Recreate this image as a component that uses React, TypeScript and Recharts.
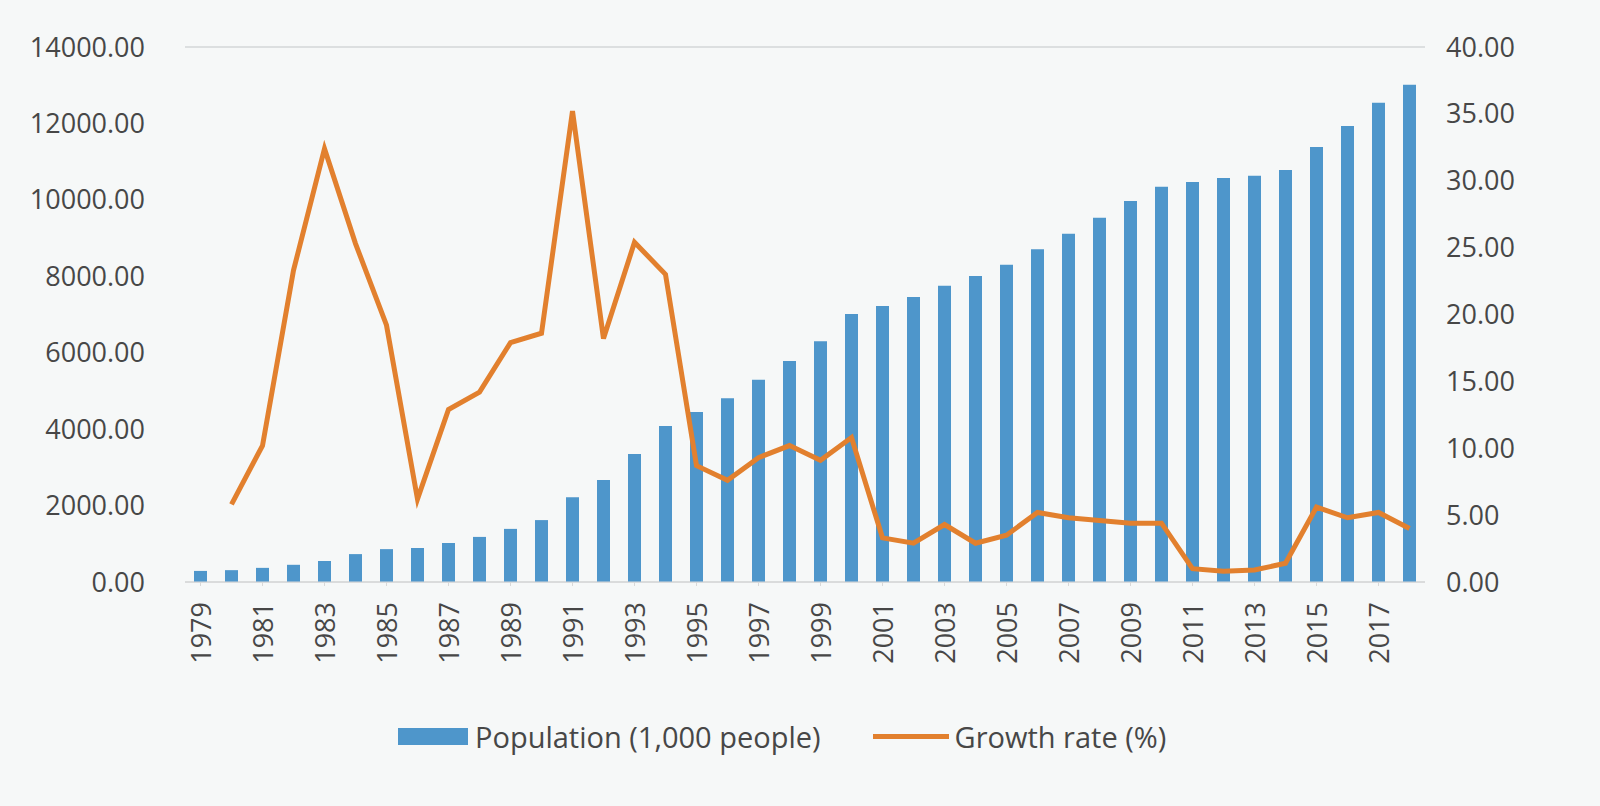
import React from 'react';
import { ComposedChart, Bar, Line, XAxis, YAxis, CartesianGrid, Legend } from 'recharts';

const years = [
  '1979','1980','1981','1982','1983','1984','1985','1986','1987','1988',
  '1989','1990','1991','1992','1993','1994','1995','1996','1997','1998',
  '1999','2000','2001','2002','2003','2004','2005','2006','2007','2008',
  '2009','2010','2011','2012','2013','2014','2015','2016','2017','2018',
];

const population = [
  290, 310, 370, 450, 550, 730, 860, 890, 1020, 1180,
  1390, 1620, 2220, 2670, 3350, 4080, 4450, 4810, 5290, 5780,
  6300, 7010, 7220, 7460, 7750, 8010, 8300, 8710, 9110, 9530,
  9970, 10340, 10470, 10570, 10630, 10780, 11380, 11930, 12540, 13010,
];

const growth: (number | null)[] = [
  null, 5.8, 10.2, 23.3, 32.4, 25.3, 19.2, 6.2, 12.9, 14.2,
  17.9, 18.6, 35.2, 18.2, 25.4, 23.0, 8.7, 7.6, 9.3, 10.2,
  9.1, 10.8, 3.3, 2.9, 4.3, 2.9, 3.5, 5.2, 4.8, 4.6,
  4.4, 4.4, 1.0, 0.8, 0.9, 1.4, 5.6, 4.8, 5.2, 4.0,
];

const leftTicks = [0, 2000, 4000, 6000, 8000, 10000, 12000, 14000];
const rightTicks = [0, 5, 10, 15, 20, 25, 30, 35, 40];

const data = years.map((y, i) => ({ year: y, population: population[i], growth: growth[i] }));

const FONT = '"Open Sans", "Liberation Sans", sans-serif';
const TEXT = '#474747';
const BAR = '#4e96cb';
const LINE = '#e2802e';
const FS = 27;

const XTick = (props: any) => {
  const { x, y, payload } = props;
  return (
    <text
      x={x}
      y={y + 14}
      transform={`rotate(-90, ${x}, ${y + 14})`}
      textAnchor="end"
      dominantBaseline="central"
      fontSize={FS}
      fontFamily={FONT}
      fill={TEXT}
    >
      {payload.value}
    </text>
  );
};

const LegendContent = () => (
  <div
    style={{
      display: 'flex',
      justifyContent: 'flex-start',
      alignItems: 'center',
      fontFamily: FONT,
      fontSize: 29,
      color: TEXT,
      height: 36,
      paddingLeft: 398,
      whiteSpace: 'nowrap',
    }}
  >
    <span style={{ display: 'inline-block', width: 70, height: 17, background: BAR, marginRight: 7 }} />
    <span style={{ marginRight: 52 }}>Population (1,000 people)</span>
    <span style={{ display: 'inline-block', width: 76, height: 5, background: LINE, marginRight: 6 }} />
    <span>Growth rate (%)</span>
  </div>
);

export default function App() {
  return (
    <div style={{ position: 'absolute', left: 0, top: 0, width: 1600, height: 806, background: '#f6f8f8' }}>
      <ComposedChart
        width={1600}
        height={806}
        data={data}
        margin={{ top: 47, right: 0, left: 0, bottom: 52 }}
      >
        <CartesianGrid vertical={false} stroke="#dcdfe0" strokeWidth={2} />
        <XAxis
          dataKey="year"
          interval={1}
          height={136}
          tick={<XTick />}
          tickLine={{ stroke: '#d8d8d8' }}
          axisLine={{ stroke: '#d8d8d8' }}
          tickSize={4}
        />
        <YAxis
          yAxisId="left"
          width={185}
          domain={[0, 14000]}
          ticks={leftTicks}
          tickFormatter={(v: number) => v.toFixed(2)}
          axisLine={false}
          tickLine={false}
          tickMargin={34}
          tick={{ fontSize: FS, fontFamily: FONT, fill: TEXT }}
        />
        <YAxis
          yAxisId="right"
          orientation="right"
          width={175}
          domain={[0, 40]}
          ticks={rightTicks}
          tickFormatter={(v: number) => v.toFixed(2)}
          axisLine={false}
          tickLine={false}
          tickMargin={15}
          tick={{ fontSize: FS, fontFamily: FONT, fill: TEXT }}
        />
        <Bar yAxisId="left" dataKey="population" fill={BAR} barSize={13} isAnimationActive={false} />
        <Line
          yAxisId="right"
          dataKey="growth"
          stroke={LINE}
          strokeWidth={5}
          dot={false}
          type="linear"
          isAnimationActive={false}
        />
        <Legend verticalAlign="bottom" content={<LegendContent />} />
      </ComposedChart>
    </div>
  );
}
